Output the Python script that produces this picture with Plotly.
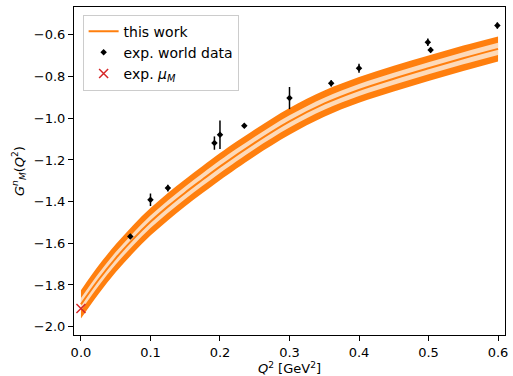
import plotly.graph_objects as go

# ---- data ----
q2_curve = [0.0, 0.025, 0.05, 0.075, 0.1, 0.125, 0.15, 0.175, 0.2, 0.25, 0.3, 0.35, 0.4, 0.45, 0.5, 0.55, 0.6]
gm_center = [-1.893, -1.776, -1.672, -1.580, -1.497, -1.424, -1.357, -1.294, -1.232, -1.118, -1.015, -0.930, -0.864, -0.810, -0.760, -0.712, -0.667]
err_outer = [0.068, 0.068, 0.067, 0.067, 0.066, 0.066, 0.065, 0.065, 0.065, 0.064, 0.064, 0.063, 0.062, 0.062, 0.061, 0.061, 0.060]
err_inner = [0.030, 0.030, 0.030, 0.030, 0.030, 0.030, 0.030, 0.030, 0.030, 0.029, 0.029, 0.029, 0.029, 0.029, 0.029, 0.029, 0.029]

q2_exp = [0.071, 0.100, 0.125, 0.192, 0.200, 0.235, 0.300, 0.360, 0.400, 0.499, 0.503, 0.599]
gm_exp = [-1.567, -1.391, -1.335, -1.119, -1.079, -1.036, -0.903, -0.832, -0.760, -0.635, -0.672, -0.555]
gm_exp_err = [0.012, 0.030, 0.016, 0.032, 0.068, 0.010, 0.053, 0.015, 0.022, 0.018, 0.012, 0.015]

q2_mu = [0.0]
gm_mu = [-1.913]

x_ticks = [0.0, 0.1, 0.2, 0.3, 0.4, 0.5, 0.6]
y_ticks = [-2.0, -1.8, -1.6, -1.4, -1.2, -1.0, -0.8, -0.6]

ORANGE = "#ff7f0e"
PEACH = "rgb(253,218,185)"
FONT = "DejaVu Sans"

outer_lo = [c - e for c, e in zip(gm_center, err_outer)]
outer_hi = [c + e for c, e in zip(gm_center, err_outer)]
inner_lo = [c - e for c, e in zip(gm_center, err_inner)]
inner_hi = [c + e for c, e in zip(gm_center, err_inner)]

fig = go.Figure()
fig.add_trace(go.Scatter(x=q2_curve, y=outer_lo, mode="lines", line=dict(width=0, shape="spline"),
                         showlegend=False, hoverinfo="skip"))
fig.add_trace(go.Scatter(x=q2_curve, y=outer_hi, mode="lines", line=dict(width=0, shape="spline"),
                         fill="tonexty", fillcolor=ORANGE, showlegend=False, hoverinfo="skip"))
fig.add_trace(go.Scatter(x=q2_curve, y=inner_lo, mode="lines", line=dict(width=0, shape="spline"),
                         showlegend=False, hoverinfo="skip"))
fig.add_trace(go.Scatter(x=q2_curve, y=inner_hi, mode="lines", line=dict(width=0, shape="spline"),
                         fill="tonexty", fillcolor=PEACH, showlegend=False, hoverinfo="skip"))
fig.add_trace(go.Scatter(x=q2_curve, y=gm_center, mode="lines", name="this work",
                         line=dict(color=ORANGE, width=2, shape="spline")))
fig.add_trace(go.Scatter(x=q2_exp, y=gm_exp, mode="markers", name="exp. world data",
                         marker=dict(color="black", size=5, symbol="diamond"),
                         error_y=dict(type="data", array=gm_exp_err, color="black", thickness=1.5, width=0)))
fig.add_trace(go.Scatter(x=q2_mu, y=gm_mu, mode="markers", name="exp. <i>μ<sub>M</sub></i>",
                         marker=dict(color="#d62728", size=9, symbol="x-thin", line=dict(color="#d62728", width=1.5))))

axis_common = dict(showline=True, mirror=True, linecolor="black", linewidth=1, ticks="outside",
                   ticklen=5, tickwidth=1, tickcolor="black", showgrid=False, zeroline=False,
                   tickfont=dict(family=FONT, size=13, color="black"))

fig.update_layout(
    width=513, height=376,
    margin=dict(l=74, r=5, t=7, b=40),
    plot_bgcolor="white", paper_bgcolor="white",
    font=dict(family=FONT, size=13, color="black"),
    xaxis=dict(range=[-0.01, 0.61], tickvals=x_ticks, tickformat=".1f",
               title=dict(text="<i>Q</i><sup>2</sup> [GeV<sup>2</sup>]", font=dict(family=FONT, size=13), standoff=2),
               **axis_common),
    yaxis=dict(range=[-2.04, -0.466], tickvals=y_ticks, tickformat=".1f",
               title=dict(text="<i>G</i><sup><i>n</i></sup><sub><i>M</i></sub>(<i>Q</i><sup>2</sup>)", font=dict(family=FONT, size=13), standoff=6),
               **axis_common),
    legend=dict(x=0.02, y=0.977, xanchor="left", yanchor="top", bgcolor="rgba(255,255,255,0.8)",
                bordercolor="#cccccc", borderwidth=1, font=dict(family=FONT, size=14),
                tracegroupgap=0, itemwidth=30, traceorder="normal"),
)

fig.write_html("out.html", config={"displayModeBar": False},
               post_script="document.body.style.margin='0';document.body.style.overflow='hidden';")
